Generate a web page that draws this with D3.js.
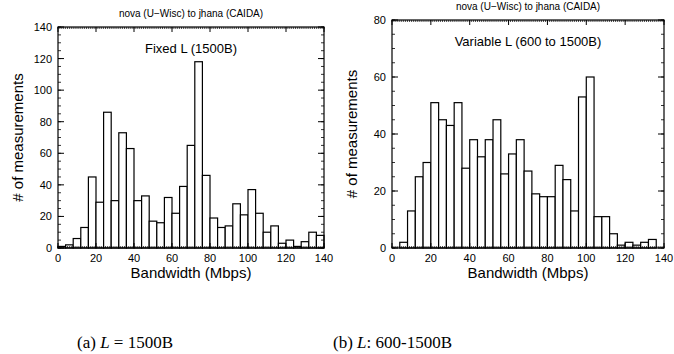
<!DOCTYPE html>
<html>
<head>
<meta charset="utf-8">
<script src="https://cdn.jsdelivr.net/npm/d3@7"></script>
<style>
  body { margin: 0; background: #fff; }
  svg text { font-family: "Liberation Sans", Arial, sans-serif; fill: #000; }
  .cap { font-family: "Liberation Serif", "DejaVu Serif", serif; }
</style>
</head>
<body>
<script>
// bin starts (Mbps), each bin is 4 Mbps wide
var binStart = [0, 4, 8, 12, 16, 20, 24, 28, 32, 36, 40, 44, 48, 52, 56, 60, 64, 68,
                72, 76, 80, 84, 88, 92, 96, 100, 104, 108, 112, 116, 120, 124, 128, 132, 136];
var binWidth = 4;

// counts
var fixedCounts = [1, 2, 6, 13, 45, 29, 86, 30, 73, 63, 30, 33, 17, 16, 32, 22, 39, 65,
                   118, 46, 19, 13, 14, 28, 21, 37, 22, 10, 14, 3, 5, 1, 4, 10, 8];
var variableCounts = [0, 2, 13, 25, 30, 51, 45, 43, 51, 28, 38, 32, 38, 45, 26, 33, 38, 27,
                      19, 18, 18, 29, 24, 13, 53, 60, 11, 11, 5, 1, 2, 1, 2, 3, 0];

var xTicks = [0, 20, 40, 60, 80, 100, 120, 140];
var yTicksFixed = [0, 20, 40, 60, 80, 100, 120, 140];
var yTicksVariable = [0, 20, 40, 60, 80];

var title = "nova (U\u2212Wisc) to jhana (CAIDA)";

var svg = d3.select("body").append("svg")
    .attr("width", 674)
    .attr("height", 354);

function drawPanel(opt) {
    var x = d3.scaleLinear().domain([0, 140]).range([opt.left, opt.right]);
    var y = d3.scaleLinear().domain([0, opt.ymax]).range([opt.bottom, opt.top]);
    var g = svg.append("g");

    var data = binStart.map(function (b, i) { return {x0: b, n: opt.counts[i]}; });

    // bars
    g.selectAll("rect.bar")
        .data(data)
        .enter().append("rect")
        .attr("class", "bar")
        .attr("x", function (d) { return x(d.x0); })
        .attr("width", function (d) { return x(d.x0 + binWidth) - x(d.x0); })
        .attr("y", function (d) { return y(d.n); })
        .attr("height", function (d) { return y(0) - y(d.n); })
        .attr("fill", "#fff")
        .attr("stroke", "#000")
        .attr("stroke-width", 1.2);

    // minor ticks x (every 1 Mbps) top and bottom
    var xm = d3.range(0, 141, 1);
    g.selectAll("line.xmb").data(xm).enter().append("line")
        .attr("x1", x).attr("x2", x)
        .attr("y1", opt.bottom).attr("y2", opt.bottom - 2)
        .attr("stroke", "#000").attr("stroke-width", 0.7);
    g.selectAll("line.xmt").data(xm).enter().append("line")
        .attr("x1", x).attr("x2", x)
        .attr("y1", opt.top).attr("y2", opt.top + 2)
        .attr("stroke", "#000").attr("stroke-width", 0.7);
    // major ticks x
    g.selectAll("line.xMb").data(xTicks).enter().append("line")
        .attr("x1", x).attr("x2", x)
        .attr("y1", opt.bottom).attr("y2", opt.bottom - 5)
        .attr("stroke", "#000");
    g.selectAll("line.xMt").data(xTicks).enter().append("line")
        .attr("x1", x).attr("x2", x)
        .attr("y1", opt.top).attr("y2", opt.top + 5)
        .attr("stroke", "#000");

    // y ticks (minor every 5) on both sides
    var ym = d3.range(0, opt.ymax + 1, 5);
    [[opt.left, 1], [opt.right, -1]].forEach(function (s) {
        g.selectAll(null).data(ym).enter().append("line")
            .attr("x1", s[0]).attr("x2", s[0] + s[1] * 3)
            .attr("y1", y).attr("y2", y)
            .attr("stroke", "#000").attr("stroke-width", 0.8);
        g.selectAll(null).data(opt.yTicks).enter().append("line")
            .attr("x1", s[0]).attr("x2", s[0] + s[1] * 6)
            .attr("y1", y).attr("y2", y)
            .attr("stroke", "#000");
    });

    // frame
    g.append("rect")
        .attr("x", opt.left).attr("y", opt.top)
        .attr("width", opt.right - opt.left).attr("height", opt.bottom - opt.top)
        .attr("fill", "none").attr("stroke", "#000").attr("stroke-width", 1.2);

    // tick labels
    g.selectAll("text.xl").data(xTicks).enter().append("text")
        .attr("x", x).attr("y", opt.bottom + 14)
        .attr("text-anchor", "middle")
        .style("font-size", "11px")
        .text(function (d) { return d; });
    g.selectAll("text.yl").data(opt.yTicks).enter().append("text")
        .attr("x", opt.left - 6).attr("y", function (d) { return y(d) + 4; })
        .attr("text-anchor", "end")
        .style("font-size", "11px")
        .text(function (d) { return d; });

    var cx = (opt.left + opt.right) / 2;
    g.append("text")
        .attr("x", cx).attr("y", opt.top - 10)
        .attr("text-anchor", "middle")
        .style("font-size", "10px")
        .text(title);
    g.append("text")
        .attr("x", cx).attr("y", opt.top + 26)
        .attr("text-anchor", "middle")
        .style("font-size", "13px")
        .text(opt.label);
    g.append("text")
        .attr("x", cx).attr("y", 278)
        .attr("text-anchor", "middle")
        .style("font-size", "15px")
        .text("Bandwidth (Mbps)");
    g.append("text")
        .attr("transform", "translate(" + (opt.left - 35) + "," + ((opt.top + opt.bottom) / 2) + ") rotate(-90)")
        .attr("text-anchor", "middle")
        .style("font-size", "15px")
        .text("# of measurements");

    // caption
    var cap = g.append("text")
        .attr("class", "cap")
        .attr("x", opt.capX).attr("y", 348)
        .style("font-size", "17px");
    cap.append("tspan").text(opt.cap[0]);
    cap.append("tspan").style("font-style", "italic").text(" L");
    cap.append("tspan").text(opt.cap[1]);
}

drawPanel({
    left: 58, right: 324, top: 27, bottom: 248,
    ymax: 140, yTicks: yTicksFixed, counts: fixedCounts,
    label: "Fixed L (1500B)",
    capX: 77, cap: ["(a)", " = 1500B"]
});

drawPanel({
    left: 392, right: 664, top: 20, bottom: 248,
    ymax: 80, yTicks: yTicksVariable, counts: variableCounts,
    label: "Variable L (600 to 1500B)",
    capX: 333, cap: ["(b)", ": 600-1500B"]
});
</script>
</body>
</html>
